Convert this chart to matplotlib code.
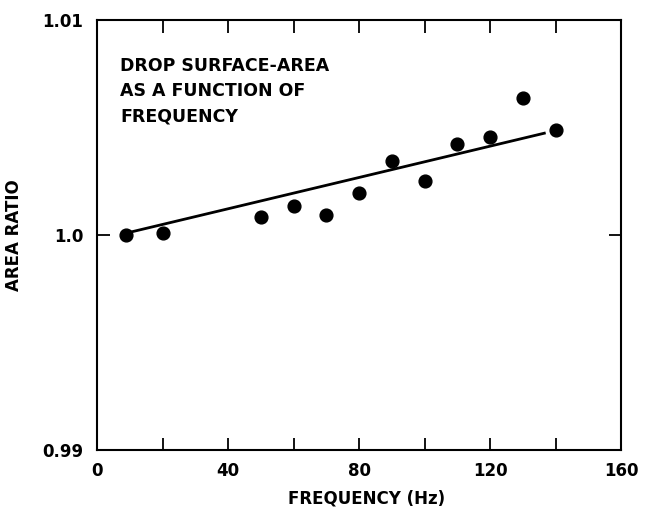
import matplotlib
matplotlib.use("Agg")
import matplotlib.pyplot as plt
from matplotlib.ticker import MultipleLocator, FixedLocator

plt.rcParams['font.family'] = ['DejaVu Sans']
plt.rcParams['font.weight'] = 'bold'

# measured drop surface-area ratio vs drive frequency
freq = [9, 20, 50, 60, 70, 80, 90, 100, 110, 120, 130, 140]
area_ratio = [1.0000, 1.00007, 1.00084, 1.00135, 1.00095, 1.00195,
              1.00342, 1.00249, 1.00424, 1.00458, 1.00637, 1.00489]

# end points of the straight line drawn through the data
fit_freq = [9, 137]
fit_ratio = [1.00009, 1.00475]

fig = plt.figure(figsize=(6.45, 5.08), dpi=100)
ax = fig.add_axes([97/645, 58/508, 524/645, 430/508])

ax.plot(fit_freq, fit_ratio, color='black', lw=2.0, solid_capstyle='butt', zorder=2)
ax.plot(freq, area_ratio, 'o', color='black', ms=9.2, zorder=3)

ax.set_xlim(0, 160)
ax.set_ylim(0.99, 1.01)

ax.xaxis.set_major_locator(MultipleLocator(40))
ax.xaxis.set_minor_locator(FixedLocator([20, 60, 100, 140]))
ax.yaxis.set_major_locator(FixedLocator([0.99, 1.0, 1.01]))
ax.yaxis.set_major_formatter(plt.FuncFormatter(lambda v, p: {0.99: '0.99', 1.0: '1.0', 1.01: '1.01'}[round(v, 2)]))

ax.tick_params(axis='both', which='both', direction='in', length=9, width=1.3,
               top=True, right=True, labelsize=12)
ax.tick_params(axis='x', which='major', pad=9)
ax.tick_params(axis='y', which='major', pad=10)
for sp in ax.spines.values():
    sp.set_linewidth(1.5)

ax.set_xlabel('FREQUENCY (Hz)', fontsize=12, fontweight='bold', va='baseline')
ax.set_ylabel('AREA RATIO', fontsize=12, fontweight='bold')
ax.xaxis.set_label_coords(0.515, -0.124)
ax.yaxis.set_label_coords(-0.141, 0.5)

ax.text(0.044, 0.913, 'DROP SURFACE-AREA\nAS A FUNCTION OF\nFREQUENCY',
        transform=ax.transAxes, fontsize=12.5, fontweight='bold',
        va='top', ha='left', linespacing=1.5)

fig.savefig('out.png', dpi=100)
